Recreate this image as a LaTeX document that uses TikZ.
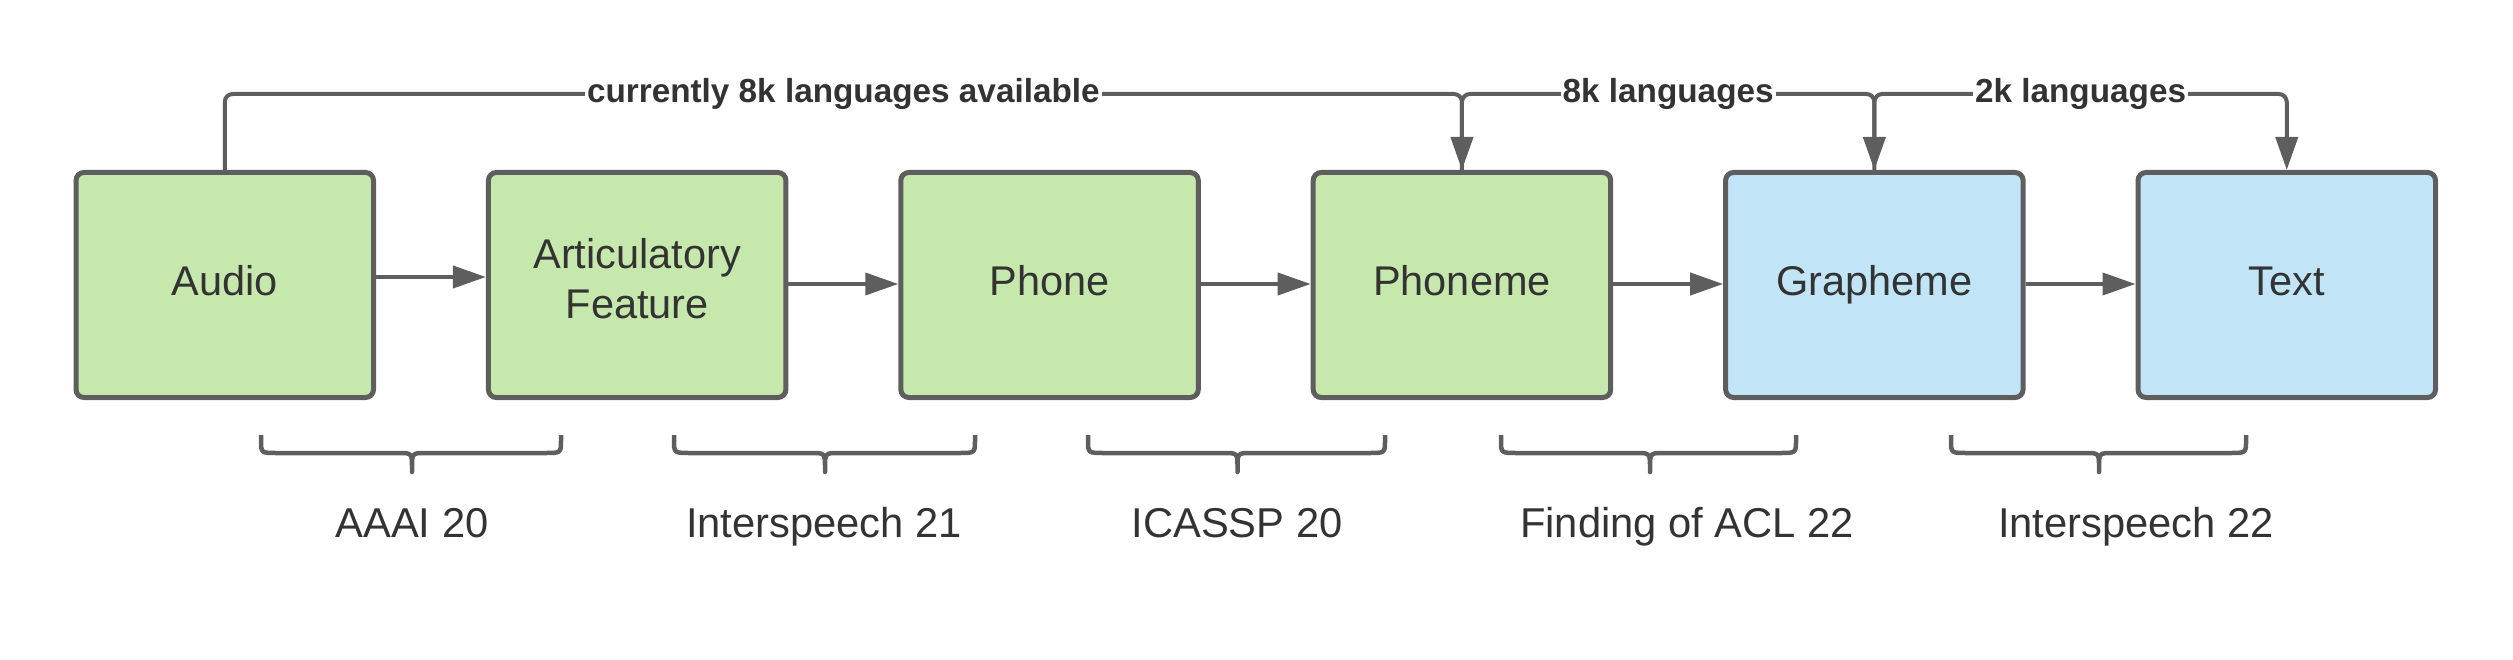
\documentclass[tikz,border=0pt]{standalone}
\usepackage{fontspec}
\setmainfont{Liberation Sans}
\usetikzlibrary{arrows.meta,calc}
\definecolor{lc}{HTML}{5E5E5E}
\definecolor{tc}{HTML}{333333}
\definecolor{gf}{HTML}{C7E8AC}
\definecolor{bf}{HTML}{C1E4F7}
\newcommand{\venuebrace}[3]{%
  \draw[brc] (#1,435) -- (#1,440) .. controls (#1,453) .. (#1+16,453) -- (#2-14,453)
    .. controls (#2,453) .. (#2,468) -- (#2,472) -- (#2,468) .. controls (#2,453) .. (#2+14,453)
    -- (#3-16,453) .. controls (#3,453) .. (#3,440) -- (#3,435);}
\begin{document}
\begin{tikzpicture}[x=1pt,y=-1pt,
  stage/.style={draw=lc, line width=5pt, rounded corners=8pt,
    minimum width=297.5pt, minimum height=225pt, inner sep=0pt, text=tc,
    font=\fontsize{41.5}{50}\selectfont, text height=29pt, text depth=9pt, align=center},
  gstage/.style={stage, fill=gf},
  bstage/.style={stage, fill=bf},
  flow/.style={draw=lc, line width=4pt, -{Triangle[length=33pt,width=22pt]}},
  langline/.style={draw=lc, line width=4pt, rounded corners=8pt, -{Triangle[length=33pt,width=22pt]}},
  langlab/.style={fill=white, inner xsep=2pt, inner ysep=1pt, text=tc,
    font=\fontsize{33.3}{40}\selectfont\bfseries},
  venue/.style={text=tc, font=\fontsize{41.7}{48}\selectfont, anchor=base, inner sep=0pt},
  brc/.style={draw=lc, line width=4.5pt, line join=round}
]
\useasboundingbox (0,0) rectangle (2513,660);
\coordinate (topy) at (0,94);

\node[gstage] (audio)    at (224.75,285)  {Audio};
\node[gstage, text height=80pt, text depth=14pt] (art) at (637.15,285) {Articulatory\\Feature};
\node[gstage] (phone)    at (1049.55,285) {Phone};
\node[gstage] (phoneme)  at (1461.95,285) {Phoneme};
\node[bstage] (grapheme) at (1874.35,285) {Grapheme};
\node[bstage] (text)     at (2286.75,285) {Text};

\draw[flow] ([yshift=8pt]audio.east) -- ([yshift=8pt]audio.east -| art.west);
\draw[flow] ([yshift=1pt]art.east) -- ([yshift=1pt]art.east -| phone.west);
\draw[flow] ([yshift=1pt]phone.east) -- ([yshift=1pt]phone.east -| phoneme.west);
\draw[flow] ([yshift=1pt]phoneme.east) -- ([yshift=1pt]phoneme.east -| grapheme.west);
\draw[flow] ([yshift=1pt]grapheme.east) -- ([yshift=1pt]grapheme.east -| text.west);

\draw[langline] (audio.north) |- (phoneme.north |- topy) -- (phoneme.north);
\draw[langline] (phoneme.north) |- (grapheme.north |- topy) -- (grapheme.north);
\draw[langline] (grapheme.north) |- (text.north |- topy) -- (text.north);

\node[langlab] (l1) at ($(audio.north |- topy)!0.5!(phoneme.north |- topy)$) {currently 8k languages available};
\node[langlab] (l2) at ($(phoneme.north |- topy)!0.5!(grapheme.north |- topy)$) {8k languages};
\node[langlab] (l3) at ($(grapheme.north |- topy)!0.5!(text.north |- topy)$) {2k languages};

\venuebrace{261}{412}{561}
\venuebrace{674}{825}{975}
\venuebrace{1088}{1237.5}{1385}
\venuebrace{1501}{1650}{1796}
\venuebrace{1951}{2099}{2246}

\node[venue] (v1) at (412,537)  {AAAI 20};
\node[venue] (v2) at (824,537)  {Interspeech 21};
\node[venue] (v3) at (1237,537) {ICASSP 20};
\node[venue] (v4) at (1687,537) {Finding of ACL 22};
\node[venue] (v5) at (2136,537) {Interspeech 22};
\end{tikzpicture}
\end{document}
